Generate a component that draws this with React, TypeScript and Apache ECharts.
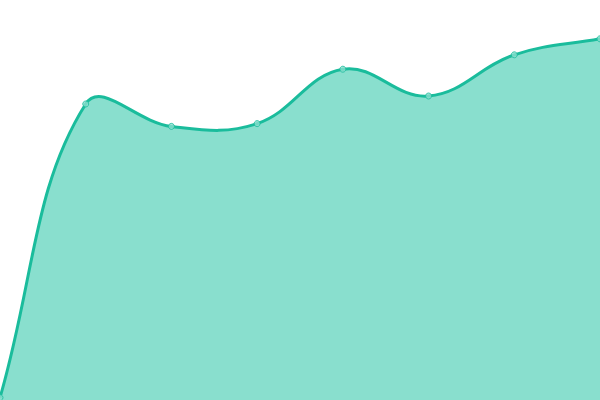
import React, { useEffect, useRef } from "react";
import * as echarts from "echarts";

const categories = ["1", "2", "3", "4", "5", "6", "7", "8"];
const values = [0.6, 74, 68.4, 69.1, 82.7, 76, 86.3, 90.3];

const LINE = "#1abc9c";
const FILL = "#89dfce";
const TENSION = 0.4;

// cardinal-style spline through the pixel points, control points capped to the grid
function splinePath(pts: number[][], box: { x: number; y: number; width: number; height: number }) {
  const cap = (v: number, lo: number, hi: number) => Math.max(lo, Math.min(hi, v));
  const cps: { prev: number[]; next: number[] }[] = [];
  for (let i = 0; i < pts.length; i++) {
    const cur = pts[i];
    const prev = pts[i - 1] || cur;
    const next = pts[i + 1] || cur;
    const d01 = Math.hypot(cur[0] - prev[0], cur[1] - prev[1]);
    const d12 = Math.hypot(next[0] - cur[0], next[1] - cur[1]);
    let s01 = d01 / (d01 + d12);
    let s12 = d12 / (d01 + d12);
    if (isNaN(s01)) s01 = 0;
    if (isNaN(s12)) s12 = 0;
    const fa = TENSION * s01;
    const fb = TENSION * s12;
    const px = cur[0] - fa * (next[0] - prev[0]);
    const py = cur[1] - fa * (next[1] - prev[1]);
    const nx = cur[0] + fb * (next[0] - prev[0]);
    const ny = cur[1] + fb * (next[1] - prev[1]);
    const x0 = box.x;
    const x1 = box.x + box.width;
    const y0 = box.y;
    const y1 = box.y + box.height;
    cps.push({
      prev: [cap(px, x0, x1), cap(py, y0, y1)],
      next: [cap(nx, x0, x1), cap(ny, y0, y1)],
    });
  }
  let d = `M${pts[0][0]},${pts[0][1]}`;
  for (let i = 1; i < pts.length; i++) {
    const a = cps[i - 1].next;
    const b = cps[i].prev;
    d += ` C${a[0]},${a[1]} ${b[0]},${b[1]} ${pts[i][0]},${pts[i][1]}`;
  }
  return d;
}

const App = () => {
  const chartRef = useRef<HTMLDivElement>(null);

  useEffect(() => {
    const chart = echarts.init(chartRef.current, null, { renderer: "svg" });

    chart.setOption({
      animation: false,
      grid: { left: 0, right: 0, top: 0, bottom: 0 },
      xAxis: {
        type: "category",
        boundaryGap: false,
        data: categories,
        show: false,
      },
      yAxis: { type: "value", min: 0, max: 100, show: false },
      series: [
        {
          type: "custom",
          data: values.map((v, i) => [i, v]),
          z: 2,
          renderItem: (params: any, api: any) => {
            if (params.dataIndex !== 0) return null;
            const pts = values.map((v, i) => api.coord([i, v]));
            const box = params.coordSys;
            const base = api.coord([0, 0])[1];
            const line = splinePath(pts, box);
            const last = pts[pts.length - 1];
            const area = `${line} L${last[0]},${base} L${pts[0][0]},${base} Z`;
            return {
              type: "group",
              children: [
                {
                  type: "path",
                  shape: { pathData: area },
                  style: { fill: FILL, stroke: "none" },
                },
                {
                  type: "path",
                  shape: { pathData: line },
                  style: { fill: "none", stroke: LINE, lineWidth: 3 },
                },
              ],
            };
          },
        },
        {
          type: "scatter",
          data: values.map((v, i) => [i, v]),
          z: 3,
          symbol: "circle",
          symbolSize: 6,
          itemStyle: { color: FILL, borderColor: LINE, borderWidth: 1 },
        },
      ],
    });

    return () => chart.dispose();
  }, []);

  return (
    <div
      ref={chartRef}
      style={{ position: "fixed", left: 0, top: 0, width: "600px", height: "400px" }}
    />
  );
};

export default App;
